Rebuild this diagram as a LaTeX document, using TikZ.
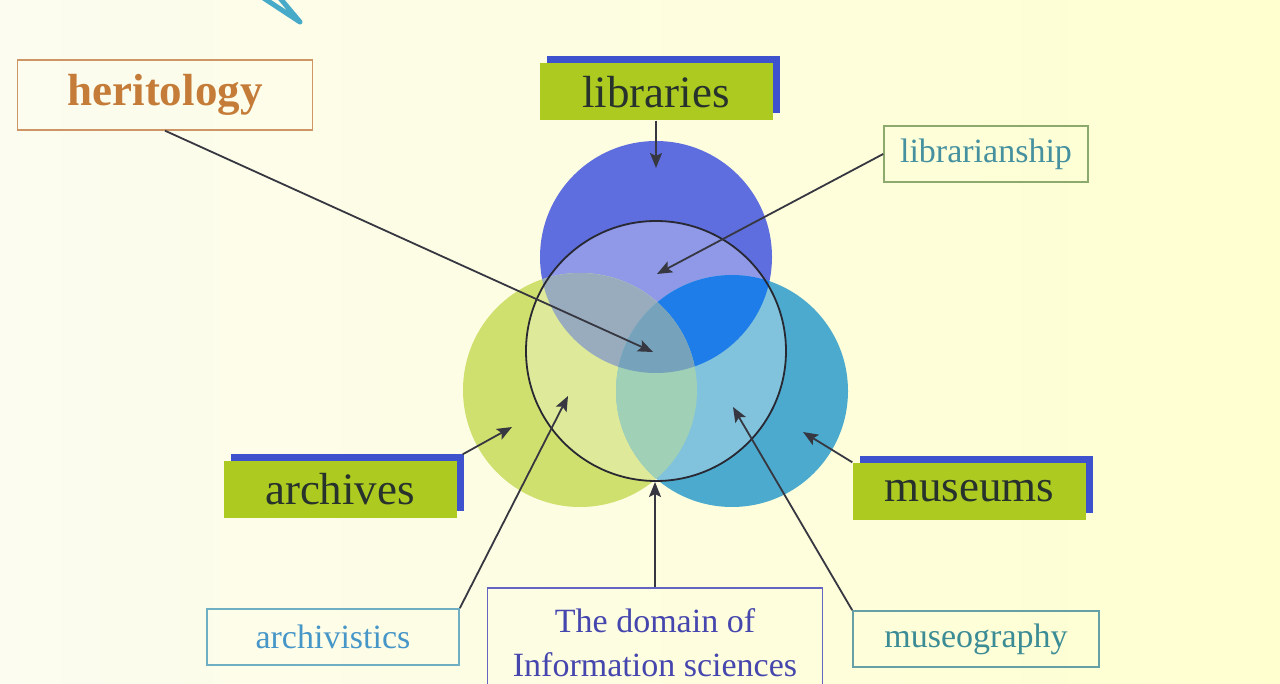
\documentclass[tikz,border=0pt]{standalone}
\usepackage{fontspec}
\setmainfont{Liberation Serif}
\usepackage{xcolor}
\usetikzlibrary{arrows.meta,shadows}
\definecolor{bgleft}{RGB}{252,252,240}
\definecolor{bgright}{RGB}{255,255,208}
\definecolor{limegreen}{RGB}{172,202,32}
\definecolor{barblue}{RGB}{62,82,205}
\definecolor{fieldtext}{RGB}{40,50,45}
\definecolor{libblue}{RGB}{95,110,222}
\definecolor{arcyellow}{RGB}{208,224,110}
\definecolor{musteal}{RGB}{75,170,205}
\definecolor{libarc}{RGB}{152,172,190}
\definecolor{libmus}{RGB}{30,125,232}
\definecolor{arcmus}{RGB}{160,208,182}
\definecolor{allthree}{RGB}{118,162,188}
\definecolor{circleline}{RGB}{40,40,50}
\definecolor{arrowgray}{RGB}{55,55,65}
\definecolor{hertext}{RGB}{196,124,56}
\definecolor{herframe}{RGB}{205,150,100}
\definecolor{lbstext}{RGB}{70,145,160}
\definecolor{lbsframe}{RGB}{140,170,110}
\definecolor{avstext}{RGB}{70,150,200}
\definecolor{avsframe}{RGB}{110,175,195}
\definecolor{mgrtext}{RGB}{60,140,150}
\definecolor{mgrframe}{RGB}{100,160,165}
\definecolor{domtext}{RGB}{70,70,175}
\definecolor{domframe}{RGB}{100,100,195}
\definecolor{cyanmark}{RGB}{70,170,200}
\tikzset{>={Stealth[length=15pt,width=12pt,inset=3pt]}}
\tikzset{%
    field/.style={%
        fill=limegreen, text=fieldtext, inner sep=0pt,
        minimum width=233pt, minimum height=57pt,
        font=\fontsize{45}{50}\selectfont,
        general shadow={fill=barblue, shadow xshift=7pt, shadow yshift=7pt}
    },
    study/.style={%
        line width=1.6pt, inner sep=0pt, minimum height=56pt,
        font=\fontsize{34}{44}\selectfont
    },
    pointer/.style={->, arrowgray, line width=1.8pt}
}

\begin{document}
\begin{tikzpicture}[x=1pt,y=-1pt]
\clip (0,0) rectangle (1280,684);
\shade[left color=bgleft,right color=bgright] (0,0) rectangle (1280,684);
\draw[cyanmark,line width=5pt,line cap=round,line join=round] (262,-3) -- (300,22) -- (279,-3);
	\def\libcircle{(656,257) circle (116pt)}
	\def\arccircle{(580,390) circle (117pt)}
	\def\muscircle{(732,391) circle (116pt)}
	\def\infcircle{(656,351) circle (130pt)}
\fill[libblue] \libcircle;
\fill[arcyellow] \arccircle;
\fill[musteal] \muscircle;
\fill[white,opacity=0.3] \infcircle;
\begin{scope}
    \clip \libcircle;
    \fill[libarc] \arccircle;
    \fill[libmus] \muscircle;
\end{scope}
\begin{scope}
    \clip \arccircle;
    \fill[arcmus] \muscircle;
\end{scope}
\begin{scope}
    \clip \libcircle;
    \clip \arccircle;
    \fill[allthree] \muscircle;
\end{scope}
\draw[circleline,line width=1.8pt] \infcircle;
% the four fields
\node[field] (libraries) at (656,92) {libraries};
\node[field] (archives) at (340,489) {archives};
\node[field] (museums) at (969,491) {museums};
\node[draw=herframe,text=hertext,line width=1.4pt,minimum width=295pt,minimum height=70pt,font=\fontsize{45}{50}\selectfont\bfseries] (heritology) at (165,95) {heritology};
% the disciplines
\node[study,draw=lbsframe,text=lbstext,minimum width=204pt] (librarianship) at (986,154) {librarianship};
\node[study,draw=avsframe,text=avstext,minimum width=252pt] (archivistics) at (333,637) {archivistics};
\node[study,draw=mgrframe,text=mgrtext,minimum width=246pt] (museography) at (976,639) {museography};
\node[study,draw=domframe,text=domtext,minimum width=335pt,minimum height=110pt,align=center] (domain) at (655,643) {The domain of\\Information sciences};
\coordinate (libtip) at (656,168);
\coordinate (hertip) at (653,352);
\coordinate (lbstip) at (657,274);
\coordinate (arctip) at (512,427);
\coordinate (avstip) at (568,396);
\coordinate (domtip) at (655,482);
\coordinate (mgrtip) at (733,407);
\coordinate (mustip) at (803,432);
\draw[pointer] (libraries.south) -- (libtip);
\draw[pointer] (heritology.south) -- (hertip);
\draw[pointer] (librarianship.west) -- (lbstip);
\draw[pointer] ([shift={(6,-6)}]archives.north east) -- (arctip);
\draw[pointer] (museums.north west) -- (mustip);
\draw[pointer] (archivistics.north east) -- (avstip);
\draw[pointer] (domain.north) -- (domtip);
\draw[pointer] (museography.north west) -- (mgrtip);
\end{tikzpicture}
\end{document}
